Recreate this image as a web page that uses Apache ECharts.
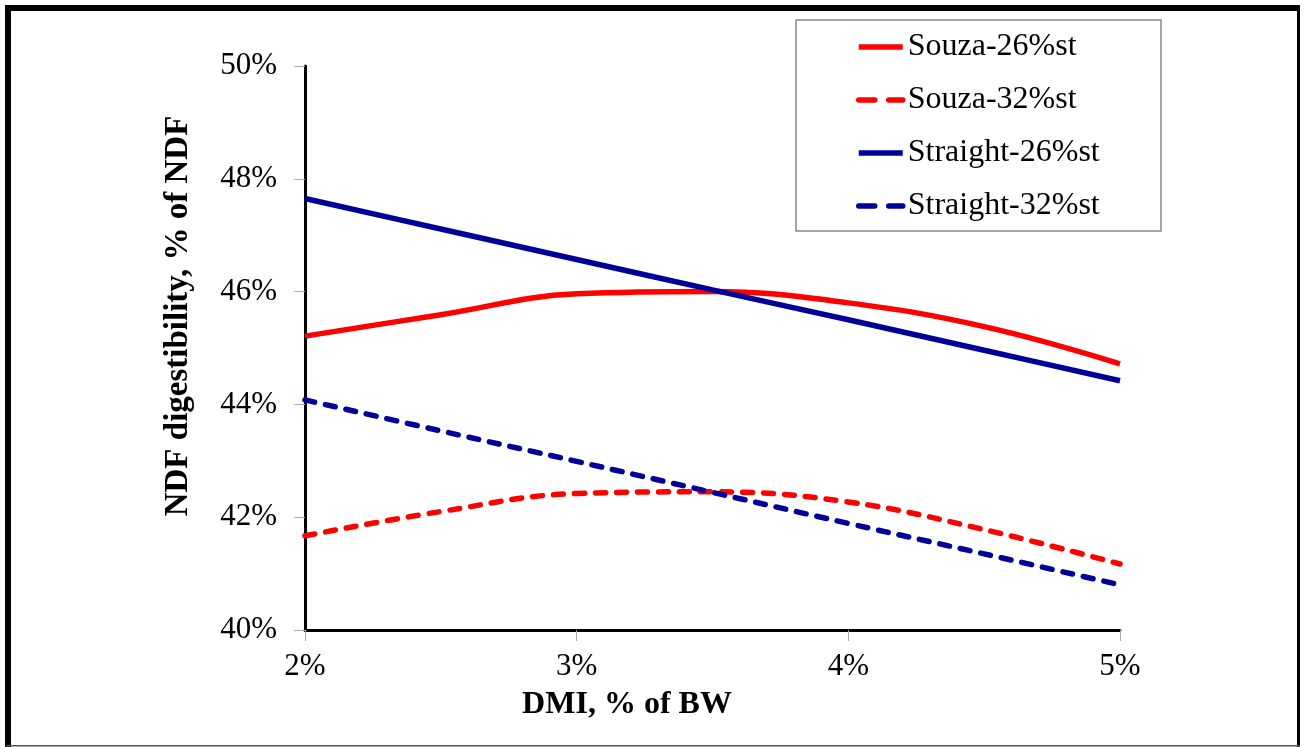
<!DOCTYPE html>
<html>
<head>
<meta charset="utf-8">
<script src="https://cdn.jsdelivr.net/npm/echarts@6/dist/echarts.min.js"></script>
<style>
html,body{margin:0;padding:0;background:#fff;}
#chart{width:1304px;height:747px;}
</style>
</head>
<body>
<div id="chart"></div>
<script>
const xValues = [2, 2.5, 3, 3.5, 4, 4.5, 5];
const souza26 = [45.21, 45.59, 45.96, 46.0, 45.80, 45.38, 44.72];
const souza32 = [41.67, 42.10, 42.42, 42.45, 42.27, 41.78, 41.17];
const straight26 = [47.65, 47.11, 46.57, 46.03, 45.50, 44.96, 44.42];
const straight32 = [44.08, 43.53, 42.99, 42.44, 41.89, 41.35, 40.80];
const seriesNames = ['Souza-26%st', 'Souza-32%st', 'Straight-26%st', 'Straight-32%st'];
const xTitle = 'DMI, % of BW';
const yTitle = 'NDF digestibility, % of NDF';

const RED = '#FF0000', BLUE = '#000099';
const FONT = "'Liberation Serif','Times New Roman',serif";
const zip = arr => xValues.map((x, i) => [x, arr[i]]);
const dash = [10, 11];
const legendDash = [16, 14];
const seriesColors = [RED, RED, BLUE, BLUE];
const seriesDashed = [false, true, false, true];

function lineStyleFor(i, d) {
  return { color: seriesColors[i], width: 5.5, type: seriesDashed[i] ? d : 'solid', cap: seriesDashed[i] ? 'round' : 'butt' };
}
function mkSeries(i, data) {
  return {
    name: seriesNames[i], type: 'line', data: zip(data), smooth: 0.4,
    symbol: 'none', color: seriesColors[i],
    lineStyle: lineStyleFor(i, dash)
  };
}

const chart = echarts.init(document.getElementById('chart'), null, { renderer: 'canvas' });
chart.setOption({
  animation: false,
  backgroundColor: '#fff',
  grid: { left: 305, right: 184, top: 66, bottom: 117, containLabel: false },
  xAxis: {
    type: 'value', min: 2, max: 5, interval: 1,
    axisLine: { show: true, lineStyle: { color: '#000', width: 3 } },
    axisTick: { show: true, length: 11, lineStyle: { color: '#aaa', width: 1 } },
    axisLabel: { margin: 21, formatter: '{value}%', fontFamily: FONT, fontSize: 31, color: '#000' },
    splitLine: { show: false }
  },
  yAxis: {
    type: 'value', min: 40, max: 50, interval: 2,
    axisLine: { show: true, lineStyle: { color: '#000', width: 3 } },
    axisTick: { show: true, length: 11, lineStyle: { color: '#aaa', width: 1 } },
    axisLabel: { margin: 28, formatter: '{value}%', fontFamily: FONT, fontSize: 31, color: '#000' },
    splitLine: { show: false }
  },
  legend: {
    orient: 'vertical', left: 856, top: 31, padding: 0,
    itemWidth: 44, itemHeight: 14, itemGap: 21,
    selectedMode: false,
    itemStyle: { opacity: 0 },
    textStyle: { fontFamily: FONT, fontSize: 32, color: '#000', lineHeight: 32 },
    data: seriesNames.map((n, i) => ({ name: n, lineStyle: lineStyleFor(i, legendDash), itemStyle: { opacity: 0 } }))
  },
  graphic: [
    { type: 'rect', shape: { x: 796, y: 20, width: 365, height: 211 }, style: { fill: null, stroke: '#888', lineWidth: 1.5 }, z: 1 },
    { type: 'text', x: 627, y: 705, style: { text: xTitle, font: "bold 32px 'Liberation Serif', serif", fill: '#000', textAlign: 'center', textVerticalAlign: 'middle' } },
    { type: 'text', x: 178, y: 316, rotation: Math.PI / 2, style: { text: yTitle, font: "bold 33px 'Liberation Serif', serif", fill: '#000', textAlign: 'center', textVerticalAlign: 'middle' } },
    { type: 'rect', shape: { x: 6, y: 5, width: 1294, height: 6 }, style: { fill: '#000' } },
    { type: 'rect', shape: { x: 5, y: 5, width: 6, height: 742 }, style: { fill: '#000' } },
    { type: 'rect', shape: { x: 1297, y: 5, width: 3, height: 742 }, style: { fill: '#000' } },
    { type: 'rect', shape: { x: 6, y: 745, width: 1294, height: 1.5 }, style: { fill: '#555' } }
  ],
  series: [
    mkSeries(0, souza26),
    mkSeries(1, souza32),
    mkSeries(2, straight26),
    mkSeries(3, straight32)
  ]
});
</script>
</body>
</html>
